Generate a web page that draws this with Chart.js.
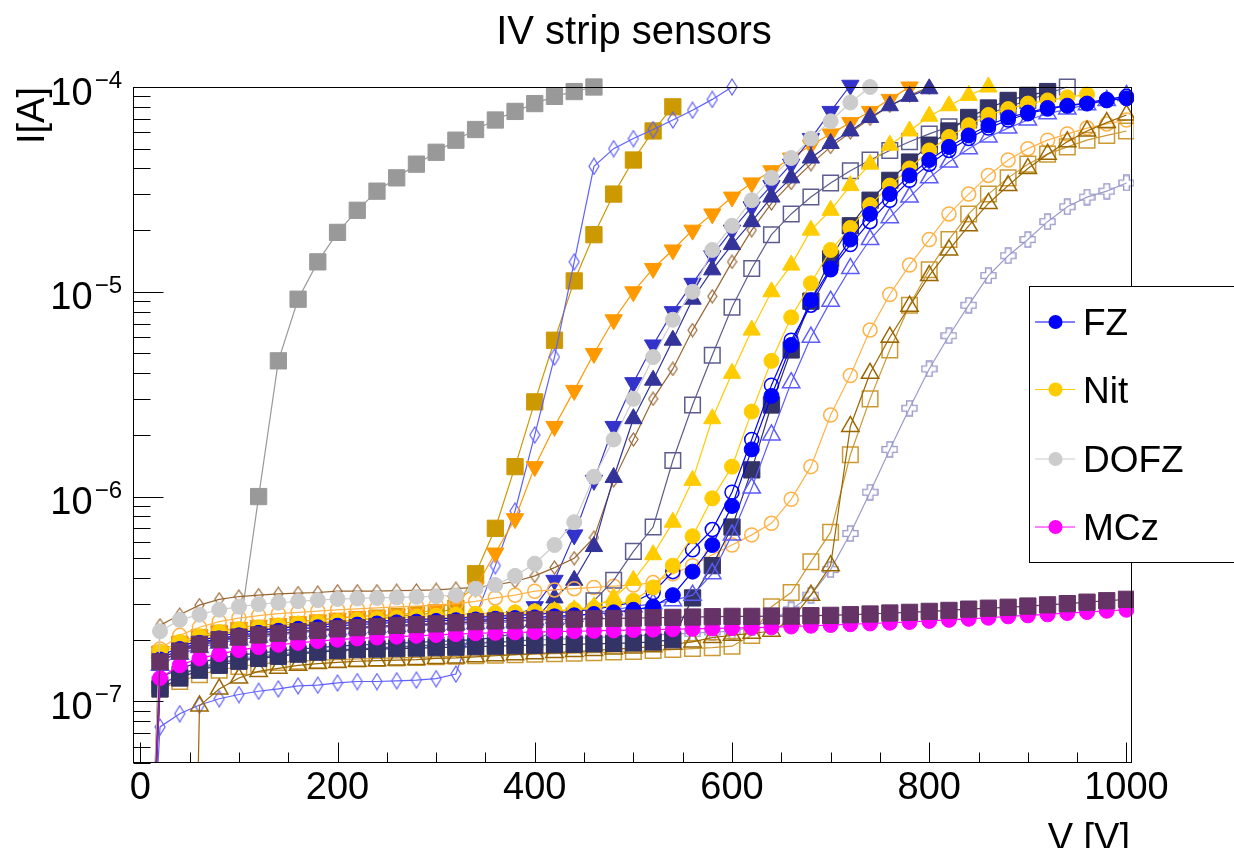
<!DOCTYPE html>
<html><head><meta charset="utf-8">
<script src="https://cdn.jsdelivr.net/npm/chart.js@4"></script>
<style>html,body{margin:0;padding:0;background:#fff;overflow:hidden}canvas{display:block}</style>
</head><body><canvas id="c" width="1234" height="848"></canvas>
<script>
const volts = [10,20,40,60,80,100,120,140,160,180,200,220,240,260,280,300,320,340,360,380,400,420,440,460,480,500,520,540,560,580,600,620,640,660,680,700,720,740,760,780,800,820,840,860,880,900,920,940,960,980,1000];

const grayBD = [1e-8,1.6e-7,1.8e-7,1.9e-7,2.0e-7,2.1e-7,1.0e-6,4.6e-6,9.2e-6,1.4e-5,1.95e-5,2.5e-5,3.1e-5,3.6e-5,4.2e-5,4.8e-5,5.5e-5,6.2e-5,6.9e-5,7.6e-5,8.3e-5,9.0e-5,9.5e-5,1.0e-4];
const goldSq = [1e-8,1.7e-7,1.9e-7,2.05e-7,2.15e-7,2.2e-7,2.25e-7,2.3e-7,2.35e-7,2.4e-7,2.45e-7,2.5e-7,2.55e-7,2.6e-7,2.65e-7,2.7e-7,2.85e-7,4.2e-7,7.0e-7,1.4e-6,2.9e-6,5.8e-6,1.13e-5,1.9e-5,3.0e-5,4.4e-5,6.1e-5,8.0e-5];
const blueDiamond = [1e-8,7.5e-8,8.7e-8,9.6e-8,1.03e-7,1.08e-7,1.12e-7,1.15e-7,1.19e-7,1.2e-7,1.23e-7,1.25e-7,1.25e-7,1.26e-7,1.27e-7,1.29e-7,1.36e-7,2.6e-7,4.6e-7,8.5e-7,2.0e-6,4.8e-6,1.4e-5,4.1e-5,5.0e-5,5.6e-5,6.2e-5,6.9e-5,7.7e-5,8.7e-5,1.0e-4];
const orangeDown = [1e-8,1.75e-7,1.95e-7,2.1e-7,2.2e-7,2.3e-7,2.35e-7,2.4e-7,2.45e-7,2.5e-7,2.55e-7,2.6e-7,2.62e-7,2.65e-7,2.7e-7,2.8e-7,3.1e-7,3.6e-7,5.3e-7,7.8e-7,1.4e-6,2.2e-6,3.3e-6,5.0e-6,7.3e-6,1.0e-5,1.3e-5,1.6e-5,2.0e-5,2.4e-5,2.9e-5,3.4e-5,3.9e-5,4.5e-5,5.2e-5,5.9e-5,6.7e-5,7.6e-5,8.7e-5,1.0e-4];
const blueDown = [1e-8,1.55e-7,1.75e-7,1.88e-7,1.97e-7,2.05e-7,2.1e-7,2.15e-7,2.2e-7,2.24e-7,2.28e-7,2.3e-7,2.33e-7,2.35e-7,2.37e-7,2.4e-7,2.42e-7,2.45e-7,2.5e-7,2.6e-7,2.9e-7,3.9e-7,6.5e-7,1.2e-6,2.2e-6,3.6e-6,5.5e-6,8.0e-6,1.1e-5,1.5e-5,2.0e-5,2.6e-5,3.3e-5,4.2e-5,5.6e-5,7.6e-5,1.02e-4];
const dofz = [1e-8,2.2e-7,2.5e-7,2.65e-7,2.8e-7,2.9e-7,2.98e-7,3.03e-7,3.08e-7,3.12e-7,3.16e-7,3.18e-7,3.2e-7,3.22e-7,3.24e-7,3.26e-7,3.3e-7,3.55e-7,3.7e-7,4.1e-7,4.7e-7,5.8e-7,7.5e-7,1.25e-6,1.9e-6,3.0e-6,4.8e-6,7.3e-6,1.0e-5,1.6e-5,2.1e-5,2.8e-5,3.6e-5,4.5e-5,5.6e-5,6.8e-5,8.4e-5,1.0e-4];
const navyUp = [1e-8,1.3e-7,1.45e-7,1.55e-7,1.62e-7,1.68e-7,1.72e-7,1.76e-7,1.8e-7,1.83e-7,1.86e-7,1.88e-7,1.9e-7,1.92e-7,1.94e-7,1.96e-7,1.98e-7,2.0e-7,2.05e-7,2.15e-7,2.5e-7,3.2e-7,3.9e-7,5.7e-7,1.24e-6,2.4e-6,3.7e-6,5.8e-6,9.2e-6,1.28e-5,1.7e-5,2.2e-5,2.9e-5,3.6e-5,4.5e-5,5.3e-5,6.1e-5,7.1e-5,8.1e-5,9.0e-5,9.8e-5];
const brownDiamond = [1e-8,2.35e-7,2.65e-7,2.95e-7,3.15e-7,3.25e-7,3.3e-7,3.35e-7,3.38e-7,3.4e-7,3.45e-7,3.45e-7,3.45e-7,3.47e-7,3.48e-7,3.5e-7,3.55e-7,3.6e-7,3.7e-7,3.85e-7,4.1e-7,4.5e-7,5.0e-7,6.3e-7,1.2e-6,1.9e-6,3.0e-6,4.2e-6,6.5e-6,9.5e-6,1.4e-5,2.0e-5,2.7e-5,3.4e-5,4.2e-5,5.1e-5,6.0e-5,7.0e-5,8.1e-5,9.1e-5,1.0e-4];
const slateOpenSq = [1e-8,1.2e-7,1.35e-7,1.45e-7,1.53e-7,1.6e-7,1.64e-7,1.68e-7,1.72e-7,1.75e-7,1.78e-7,1.8e-7,1.82e-7,1.84e-7,1.86e-7,1.88e-7,1.9e-7,1.92e-7,1.94e-7,1.97e-7,2.0e-7,2.2e-7,2.6e-7,3.1e-7,3.9e-7,5.4e-7,7.1e-7,1.5e-6,2.8e-6,4.9e-6,8.4e-6,1.3e-5,1.9e-5,2.4e-5,2.9e-5,3.4e-5,3.9e-5,4.4e-5,4.9e-5,5.4e-5,5.9e-5,6.4e-5,6.9e-5,7.4e-5,8.0e-5,8.6e-5,9.3e-5,1.0e-4];
const goldUp = [1e-8,1.7e-7,1.9e-7,2.0e-7,2.1e-7,2.17e-7,2.22e-7,2.27e-7,2.32e-7,2.36e-7,2.4e-7,2.43e-7,2.46e-7,2.49e-7,2.52e-7,2.55e-7,2.58e-7,2.6e-7,2.63e-7,2.66e-7,2.7e-7,2.75e-7,2.8e-7,2.9e-7,3.2e-7,3.9e-7,5.2e-7,7.5e-7,1.2e-6,2.4e-6,4.0e-6,6.5e-6,1.0e-5,1.35e-5,2.0e-5,2.5e-5,3.3e-5,4.2e-5,5.2e-5,6.1e-5,7.2e-5,8.1e-5,9.1e-5,1.0e-4];
const navySq = [1e-8,1.15e-7,1.3e-7,1.42e-7,1.5e-7,1.57e-7,1.62e-7,1.66e-7,1.7e-7,1.74e-7,1.77e-7,1.79e-7,1.8e-7,1.81e-7,1.82e-7,1.83e-7,1.84e-7,1.85e-7,1.86e-7,1.87e-7,1.88e-7,1.89e-7,1.9e-7,1.91e-7,1.92e-7,1.93e-7,1.95e-7,2.0e-7,3.2e-7,4.6e-7,7.1e-7,1.35e-6,2.8e-6,5.2e-6,9.0e-6,1.45e-5,2.1e-5,2.8e-5,3.5e-5,4.3e-5,5.2e-5,6.1e-5,7.1e-5,7.9e-5,8.6e-5,9.1e-5,9.5e-5];
const nit = [1e-8,1.75e-7,1.95e-7,2.08e-7,2.18e-7,2.25e-7,2.3e-7,2.35e-7,2.4e-7,2.43e-7,2.46e-7,2.5e-7,2.53e-7,2.56e-7,2.59e-7,2.62e-7,2.65e-7,2.68e-7,2.7e-7,2.72e-7,2.75e-7,2.78e-7,2.8e-7,2.85e-7,2.95e-7,3.1e-7,3.6e-7,4.6e-7,6.4e-7,9.8e-7,1.4e-6,2.6e-6,4.6e-6,7.5e-6,1.1e-5,1.6e-5,2.05e-5,2.65e-5,3.3e-5,4.0e-5,4.9e-5,5.7e-5,6.5e-5,7.3e-5,7.8e-5,8.3e-5,8.6e-5,8.9e-5,9.2e-5];
const fz = [1e-8,1.6e-7,1.8e-7,1.93e-7,2.03e-7,2.1e-7,2.16e-7,2.21e-7,2.26e-7,2.3e-7,2.34e-7,2.37e-7,2.4e-7,2.43e-7,2.45e-7,2.47e-7,2.49e-7,2.51e-7,2.53e-7,2.55e-7,2.57e-7,2.6e-7,2.63e-7,2.67e-7,2.72e-7,2.8e-7,2.9e-7,3.3e-7,4.3e-7,5.8e-7,9.0e-7,1.7e-6,3.1e-6,5.5e-6,9.1e-6,1.3e-5,1.8e-5,2.4e-5,3.0e-5,3.7e-5,4.4e-5,5.1e-5,5.8e-5,6.5e-5,7.1e-5,7.5e-5,7.9e-5,8.1e-5,8.3e-5,8.6e-5,8.8e-5];
const fzOpen = [1e-8,1.65e-7,1.85e-7,1.98e-7,2.08e-7,2.16e-7,2.22e-7,2.27e-7,2.32e-7,2.36e-7,2.4e-7,2.43e-7,2.46e-7,2.49e-7,2.51e-7,2.53e-7,2.55e-7,2.57e-7,2.6e-7,2.63e-7,2.66e-7,2.7e-7,2.75e-7,2.82e-7,2.92e-7,3.05e-7,3.4e-7,4.3e-7,5.5e-7,6.9e-7,1.05e-6,1.9e-6,3.5e-6,5.8e-6,8.6e-6,1.28e-5,1.7e-5,2.2e-5,2.8e-5,3.5e-5,4.2e-5,4.9e-5,5.6e-5,6.3e-5,6.9e-5,7.4e-5,7.8e-5,8.1e-5,8.4e-5,8.7e-5,9.0e-5];
const blueOpenUp = [1e-8,1.5e-7,1.7e-7,1.83e-7,1.93e-7,2.0e-7,2.06e-7,2.11e-7,2.16e-7,2.2e-7,2.24e-7,2.27e-7,2.3e-7,2.32e-7,2.34e-7,2.36e-7,2.38e-7,2.4e-7,2.42e-7,2.45e-7,2.5e-7,2.55e-7,2.6e-7,2.7e-7,2.8e-7,2.9e-7,3.0e-7,3.1e-7,3.3e-7,4.2e-7,6.5e-7,1.1e-6,2.0e-6,3.6e-6,6.0e-6,9.0e-6,1.3e-5,1.8e-5,2.3e-5,2.9e-5,3.6e-5,4.3e-5,5.0e-5,5.7e-5,6.3e-5,6.9e-5,7.4e-5,7.8e-5,8.2e-5,8.6e-5,9.1e-5];
const brownOpenUp = [1e-12,1e-12,1e-12,9.5e-8,1.15e-7,1.3e-7,1.4e-7,1.45e-7,1.5e-7,1.53e-7,1.55e-7,1.57e-7,1.58e-7,1.59e-7,1.6e-7,1.62e-7,1.63e-7,1.65e-7,1.67e-7,1.69e-7,1.71e-7,1.73e-7,1.75e-7,1.77e-7,1.8e-7,1.82e-7,1.85e-7,1.9e-7,1.95e-7,2.05e-7,2.1e-7,2.15e-7,2.2e-7,2.5e-7,3.3e-7,4.6e-7,2.2e-6,4.0e-6,6.0e-6,8.5e-6,1.2e-5,1.6e-5,2.1e-5,2.7e-5,3.3e-5,4.0e-5,4.7e-5,5.4e-5,6.1e-5,6.7e-5,7.3e-5];
const orangeOpenCircle = [1e-8,1.8e-7,2.1e-7,2.3e-7,2.45e-7,2.55e-7,2.62e-7,2.68e-7,2.72e-7,2.76e-7,2.8e-7,2.83e-7,2.86e-7,2.89e-7,2.92e-7,2.95e-7,3.0e-7,3.08e-7,3.2e-7,3.3e-7,3.45e-7,3.5e-7,3.55e-7,3.6e-7,3.65e-7,3.7e-7,3.8e-7,4.2e-7,4.6e-7,5.2e-7,5.8e-7,6.5e-7,7.4e-7,9.7e-7,1.4e-6,2.5e-6,3.9e-6,6.5e-6,9.7e-6,1.35e-5,1.8e-5,2.4e-5,3.0e-5,3.7e-5,4.4e-5,5.0e-5,5.5e-5,5.9e-5,6.3e-5,6.6e-5,6.9e-5];
const goldOpenSq = [1e-8,1.15e-7,1.25e-7,1.35e-7,1.42e-7,1.48e-7,1.52e-7,1.55e-7,1.57e-7,1.59e-7,1.6e-7,1.61e-7,1.62e-7,1.63e-7,1.64e-7,1.65e-7,1.66e-7,1.67e-7,1.68e-7,1.69e-7,1.7e-7,1.71e-7,1.72e-7,1.73e-7,1.74e-7,1.75e-7,1.77e-7,1.79e-7,1.81e-7,1.83e-7,1.86e-7,2.1e-7,2.9e-7,3.4e-7,4.8e-7,6.7e-7,1.6e-6,3.0e-6,5.2e-6,8.6e-6,1.28e-5,1.8e-5,2.4e-5,3.0e-5,3.6e-5,4.2e-5,4.7e-5,5.1e-5,5.5e-5,5.8e-5,6.1e-5];
const slateCross = [1e-8,1.2e-7,1.35e-7,1.47e-7,1.55e-7,1.62e-7,1.67e-7,1.71e-7,1.74e-7,1.77e-7,1.79e-7,1.81e-7,1.83e-7,1.85e-7,1.87e-7,1.89e-7,1.91e-7,1.93e-7,1.95e-7,1.97e-7,1.99e-7,2.01e-7,2.03e-7,2.05e-7,2.07e-7,2.09e-7,2.11e-7,2.13e-7,2.15e-7,2.18e-7,2.2e-7,2.3e-7,2.5e-7,2.8e-7,3.3e-7,4.4e-7,6.6e-7,1.05e-6,1.7e-6,2.7e-6,4.2e-6,6.1e-6,8.6e-6,1.2e-5,1.5e-5,1.8e-5,2.2e-5,2.6e-5,2.9e-5,3.1e-5,3.4e-5];
const purpleSq = [1e-8,1.56e-7,1.76e-7,1.9e-7,2.0e-7,2.06e-7,2.11e-7,2.15e-7,2.19e-7,2.22e-7,2.26e-7,2.29e-7,2.32e-7,2.35e-7,2.37e-7,2.39e-7,2.42e-7,2.45e-7,2.47e-7,2.48e-7,2.5e-7,2.51e-7,2.52e-7,2.53e-7,2.54e-7,2.55e-7,2.56e-7,2.57e-7,2.58e-7,2.59e-7,2.6e-7,2.6e-7,2.61e-7,2.61e-7,2.62e-7,2.63e-7,2.65e-7,2.67e-7,2.7e-7,2.72e-7,2.75e-7,2.78e-7,2.82e-7,2.85e-7,2.88e-7,2.92e-7,2.96e-7,3.0e-7,3.05e-7,3.1e-7,3.15e-7];
const mcz = [1e-8,1.3e-7,1.5e-7,1.62e-7,1.7e-7,1.78e-7,1.84e-7,1.89e-7,1.93e-7,1.97e-7,2.0e-7,2.03e-7,2.05e-7,2.07e-7,2.09e-7,2.11e-7,2.13e-7,2.15e-7,2.16e-7,2.17e-7,2.18e-7,2.19e-7,2.2e-7,2.21e-7,2.22e-7,2.23e-7,2.24e-7,2.25e-7,2.26e-7,2.27e-7,2.28e-7,2.29e-7,2.3e-7,2.32e-7,2.34e-7,2.36e-7,2.38e-7,2.4e-7,2.42e-7,2.44e-7,2.47e-7,2.5e-7,2.53e-7,2.56e-7,2.6e-7,2.63e-7,2.66e-7,2.7e-7,2.73e-7,2.77e-7,2.8e-7];

const xTickValues = [0,200,400,600,800,1000];
const xTickLabels = ['0','200','400','600','800','1000'];
const yTickExponents = [-7,-6,-5,-4];
const legendLabels = ['FZ','Nit','DOFZ','MCz'];
const legendColors = ['#0000ff','#ffcc00','#cccccc','#ff00ff'];
const titleText = 'IV strip sensors';
const xTitle = 'V [V]';
const yTitle = 'I[A]';

const FONT = '"Liberation Sans", Arial, Helvetica, sans-serif';

function markerCanvas(kind, color, w, h, lw) {
  const c = document.createElement('canvas');
  c.width = w; c.height = h;
  const g = c.getContext('2d');
  g.strokeStyle = color; g.lineWidth = lw;
  g.beginPath();
  if (kind === 'diamond') {
    g.moveTo(w/2, 1); g.lineTo(w-1, h/2); g.lineTo(w/2, h-1); g.lineTo(1, h/2); g.closePath();
  } else if (kind === 'cross') {
    const c0 = w/2, t = w/6, e = 1;
    g.moveTo(c0-t, e); g.lineTo(c0+t, e); g.lineTo(c0+t, c0-t); g.lineTo(w-e, c0-t);
    g.lineTo(w-e, c0+t); g.lineTo(c0+t, c0+t); g.lineTo(c0+t, h-e); g.lineTo(c0-t, h-e);
    g.lineTo(c0-t, c0+t); g.lineTo(e, c0+t); g.lineTo(e, c0-t); g.lineTo(c0-t, c0-t); g.closePath();
  }
  g.stroke();
  return c;
}

// index 0 is drawn on top
const series = [
  {vals: purpleSq, color:'#663366', shape:'rect', fill:true},
  {vals: mcz, color:'#ff00ff', shape:'circle', fill:true},
  {vals: dofz, color:'#cccccc', shape:'circle', fill:true},
  {vals: fz, color:'#0000ff', shape:'circle', fill:true},
  {vals: nit, color:'#ffcc00', shape:'circle', fill:true},
  {vals: fzOpen, color:'#0000ff', shape:'circle', fill:false},
  {vals: blueOpenUp, color:'#5a5aff', shape:'triangle', fill:false},
  {vals: navySq, color:'#333366', shape:'rect', fill:true},
  {vals: goldUp, color:'#ffcc00', shape:'triangle', fill:true},
  {vals: slateOpenSq, color:'#5c5c8f', shape:'rect', fill:false},
  {vals: brownOpenUp, color:'#996600', shape:'triangle', fill:false},
  {vals: goldOpenSq, color:'#cc9933', shape:'rect', fill:false},
  {vals: orangeOpenCircle, color:'#ffb347', shape:'circle', fill:false},
  {vals: slateCross, color:'#9a9acc', shape:'cross', fill:false},
  {vals: navyUp, color:'#333399', shape:'triangle', fill:true},
  {vals: brownDiamond, color:'#996633', shape:'diamond', fill:false, small:true},
  {vals: blueDown, color:'#3333cc', shape:'triangle', fill:true, down:true},
  {vals: orangeDown, color:'#ff9900', shape:'triangle', fill:true, down:true},
  {vals: blueDiamond, color:'#6060ff', shape:'diamond', fill:false},
  {vals: goldSq, color:'#cc9900', shape:'rect', fill:true},
  {vals: grayBD, color:'#999999', shape:'rect', fill:true}
];

const datasets = series.map(s => {
  let pointStyle = s.shape, radius = 7.5, bw = s.fill ? 1 : 1.5;
  if (s.shape === 'rect') radius = s.fill ? 11.5 : 11;
  if (s.shape === 'triangle') radius = 10;
  if (s.shape === 'diamond') pointStyle = s.small ? markerCanvas('diamond', s.color, 11, 15, 1.2) : markerCanvas('diamond', s.color, 12, 18, 1.2);
  if (s.shape === 'cross') pointStyle = markerCanvas('cross', s.color, 17, 17, 1.4);
  if (s.shape === 'circle' && !s.fill) radius = 7;
  return {
    data: s.vals.map((v, i) => ({x: volts[i], y: v})),
    showLine: true,
    borderColor: s.color,
    borderWidth: 1.2,
    backgroundColor: s.color,
    pointStyle: pointStyle,
    pointRadius: radius,
    pointHoverRadius: radius,
    pointRotation: s.down ? 180 : 0,
    pointBackgroundColor: s.fill ? s.color : 'rgba(0,0,0,0)',
    pointBorderColor: s.color,
    pointBorderWidth: bw,
    tension: 0,
    clip: {left: 0, top: 12, right: 2, bottom: 0}
  };
});

const decor = {
  id: 'decor',
  afterDatasetsDraw(chart) {
    const {ctx, chartArea: a} = chart;
    const xs = chart.scales.x, ys = chart.scales.y;
    ctx.save();
    ctx.strokeStyle = '#000'; ctx.lineWidth = 1;
    const L = a.left + 0.5, R = a.right - 0.5, T = a.top + 0.5, B = a.bottom - 0.5;
    ctx.strokeRect(L, T, R - L, B - T);
    ctx.beginPath();
    for (let v = 0; v <= 1000; v += 50) {
      const px = Math.round(xs.getPixelForValue(v)) + 0.5;
      const len = v % 200 === 0 ? 20 : 10;
      ctx.moveTo(px, B); ctx.lineTo(px, B - len);
    }
    for (let d = -8; d <= -4; d++) {
      for (let m = 1; m <= 9; m++) {
        const val = m * Math.pow(10, d);
        if (val < ys.min * 0.999 || val > ys.max * 1.001) continue;
        const py = Math.round(ys.getPixelForValue(val)) + 0.5;
        const len = m === 1 ? 30 : 17;
        ctx.moveTo(L, py); ctx.lineTo(L + len, py);
      }
    }
    ctx.stroke();

    ctx.fillStyle = '#000';
    ctx.textBaseline = 'alphabetic';
    ctx.font = '38px ' + FONT;
    ctx.textAlign = 'center';
    xTickValues.forEach((v, i) => ctx.fillText(xTickLabels[i], xs.getPixelForValue(v), 799));

    yTickExponents.forEach(e => {
      const py = ys.getPixelForValue(Math.pow(10, e));
      const sup = '\u2212' + Math.abs(e);
      ctx.font = '24px ' + FONT;
      const ws = ctx.measureText(sup).width;
      ctx.textAlign = 'right';
      ctx.fillText(sup, 122, py + 1);
      ctx.font = '38px ' + FONT;
      ctx.fillText('10', 122 - ws - 2, py + 17.5);
    });

    // title
    ctx.font = '40px ' + FONT;
    ctx.textAlign = 'center';
    ctx.fillText(titleText, 634, 44);
    // x title
    ctx.font = '38px ' + FONT;
    ctx.textAlign = 'right';
    ctx.fillText(xTitle, 1130, 850);
    // y title
    ctx.save();
    ctx.translate(44, 87);
    ctx.rotate(-Math.PI / 2);
    ctx.textAlign = 'right';
    ctx.fillText(yTitle, 0, 0);
    ctx.restore();

    // legend
    const bx = 1029.5, by = 286.5, bw = 220, bh = 276;
    ctx.fillStyle = '#fff';
    ctx.fillRect(bx, by, bw, bh);
    ctx.strokeStyle = '#000'; ctx.lineWidth = 1;
    ctx.strokeRect(bx, by, bw, bh);
    const rows = [322, 389.5, 459, 527];
    legendLabels.forEach((lab, i) => {
      const yy = rows[i];
      ctx.strokeStyle = legendColors[i]; ctx.lineWidth = 1.2;
      ctx.beginPath(); ctx.moveTo(1035, yy); ctx.lineTo(1075, yy); ctx.stroke();
      ctx.fillStyle = legendColors[i];
      ctx.beginPath(); ctx.arc(1055.5, yy, 7, 0, Math.PI * 2); ctx.fill();
      ctx.fillStyle = '#000';
      ctx.font = '37px ' + FONT;
      ctx.textAlign = 'left';
      ctx.fillText(lab, 1083, yy + 13);
    });
    ctx.restore();
  }
};

new Chart(document.getElementById('c'), {
  type: 'scatter',
  data: {datasets},
  options: {
    responsive: false,
    animation: false,
    devicePixelRatio: 1,
    layout: {padding: {left: 133, right: 102, top: 87, bottom: 85}},
    plugins: {legend: {display: false}, tooltip: {enabled: false}},
    scales: {
      x: {type: 'linear', min: -7.4, max: 1005.6, display: false},
      y: {type: 'logarithmic', min: 5e-8, max: 1e-4, display: false}
    }
  },
  plugins: [decor]
});
</script>
</body></html>
